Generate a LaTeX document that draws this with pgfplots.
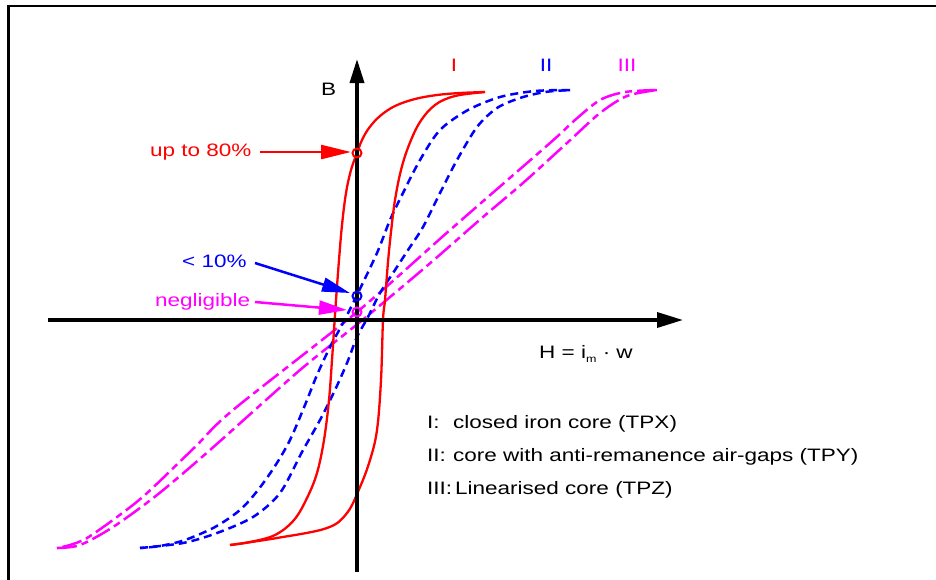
\documentclass[border=0pt]{standalone}
\usepackage{fontspec}
\setmainfont{Liberation Sans}[FakeStretch=1.25]
\usepackage{pgfplots}
\pgfplotsset{compat=1.18}
\usetikzlibrary{arrows.meta}
\definecolor{mag}{RGB}{255,0,255}
\definecolor{rd}{RGB}{255,0,0}
\definecolor{bl}{RGB}{0,0,255}
\begin{document}
\begin{tikzpicture}[T/.style={font=\fontsize{18}{21}\selectfont, inner sep=0pt}]
\begin{axis}[
  scale only axis, width=936pt, height=579pt,
  xmin=0, xmax=936, ymin=0, ymax=579, y dir=reverse,
  hide axis, clip=true,
]
% frame
\addplot[black, line width=2.6pt] coordinates {(8.5,620) (8.5,6) (960,6)};
% magenta curve III
\addplot[mag, line width=2.5pt, smooth, tension=0.5, dash pattern=on 20pt off 5pt on 7pt off 5pt] coordinates {
(657,90) (625,92) (600,100) (575,120) (550,143) (450,230) (357,312) (233,410) (195,447) (146,494) (117,517) (87,538) (70,545) (57,548)};
\addplot[mag, line width=2.5pt, smooth, tension=0.5, dash pattern=on 20pt off 5pt on 7pt off 5pt] coordinates {
(57,548) (80,545) (113,527) (157,495) (210,450) (300,370) (360,322) (428,265) (483,217) (523,183) (567,143) (600,113) (627,96) (657,90)};
% blue curve II
\addplot[bl, line width=2.5pt, smooth, tension=0.5, dash pattern=on 8pt off 5pt] coordinates {
(570,90) (535,91) (500,97) (468,110) (440,130) (420,160) (403,193) (390,220) (377,253) (357,295) (343,323) (330,347) (317,375) (305,405) (290,440) (275,466) (258,490) (240,510) (215,527) (185,540) (160,546) (140,548)};
\addplot[bl, line width=2.5pt, smooth, tension=0.5, dash pattern=on 8pt off 5pt] coordinates {
(140,548) (183,543) (217,533) (253,517) (280,493) (302,452) (320,420) (335,390) (347,363) (357,337) (368,317) (380,293) (395,270) (408,250) (423,227) (440,193) (457,160) (477,127) (497,108) (520,98) (545,92) (570,90)};
% red curve I
\addplot[rd, line width=2.3pt, smooth, tension=0.6] coordinates {
(485,92) (460,93) (437,95) (415,99) (395,106) (380,116) (369,128) (362,140) (357,153) (351,170) (346,193) (342,225) (339,260) (336,300) (334,330) (332,360) (329,400) (324,440) (317,473) (307,498) (294,520) (275,535) (250,542) (230,545)};
\addplot[rd, line width=2.3pt, smooth, tension=0.6] coordinates {
(230,545) (277,538) (327,528) (347,513) (360,487) (370,460) (377,430) (381,380) (383,320) (385,300) (388,262) (391,232) (395,200) (401,170) (409,145) (420,122) (435,105) (455,96) (485,92)};
% axes
\addplot[black, line width=3.5pt, -{Triangle[length=26pt,width=15pt]}] coordinates {(48,320) (683,320)};
\addplot[black, line width=3.5pt, -{Triangle[length=24pt,width=14pt]}] coordinates {(357,572) (357,59)};
% annotation arrows
\addplot[rd, line width=2.5pt, -{Triangle[length=30pt,width=14pt]}] coordinates {(260,152) (351,152)};
\addplot[bl, line width=2.5pt, -{Triangle[length=28pt,width=14pt]}] coordinates {(255,263) (350,293)};
\addplot[mag, line width=2.5pt, -{Triangle[length=28pt,width=14pt]}] coordinates {(255,302) (347,310)};
% markers
\addplot[rd, only marks, mark=o, mark size=4.5pt, line width=2pt] coordinates {(357,153)};
\addplot[bl, only marks, mark=o, mark size=4.5pt, line width=2pt] coordinates {(357,296)};
\addplot[mag, only marks, mark=o, mark size=4.5pt, line width=2pt] coordinates {(357,312)};
\addplot[black, only marks, mark=*, mark size=1.8pt] coordinates {(357,153) (357,296) (357,312)};
% texts
\node[T, anchor=base west, text=rd] at (axis cs:150,156) {up to 80\%};
\node[T, anchor=base west, text=bl] at (axis cs:182,267) {< 10\%};
\node[T, anchor=base west, text=mag] at (axis cs:155,306) {negligible};
\node[T, anchor=base west] at (axis cs:321,95) {B};
\node[T, anchor=base west] at (axis cs:539,358) {H = i\raisebox{-4pt}{\fontsize{10}{10}\selectfont m} · w};
\node[T, anchor=base, text=rd] at (axis cs:454,71) {I};
\node[T, anchor=base, text=bl] at (axis cs:546,71) {II};
\node[T, anchor=base, text=mag] at (axis cs:627,71) {III};
\node[T, anchor=base west] at (axis cs:427,428) {I:};
\node[T, anchor=base west] at (axis cs:427,461) {II:};
\node[T, anchor=base west] at (axis cs:427,494) {III:};
\node[T, anchor=base west] at (axis cs:453,428) {closed iron core (TPX)};
\node[T, anchor=base west] at (axis cs:453,461) {core with anti-remanence air-gaps (TPY)};
\node[T, anchor=base west] at (axis cs:455,494) {Linearised core (TPZ)};
\end{axis}
\pgfresetboundingbox
\path[use as bounding box] (current axis.south west) rectangle (current axis.north east);
\end{tikzpicture}
\end{document}
